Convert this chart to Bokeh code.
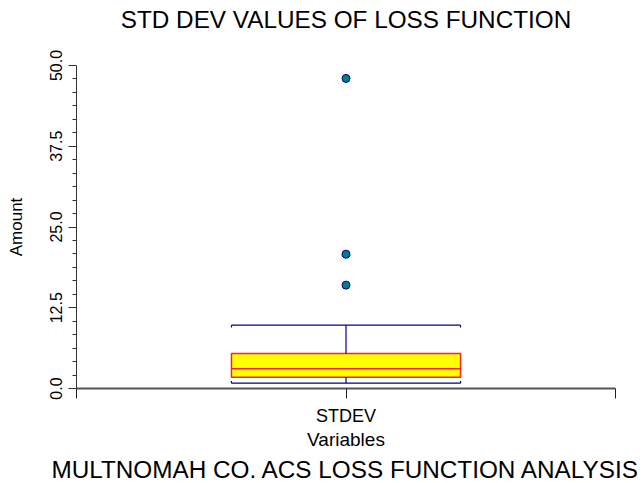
from bokeh.plotting import figure
from bokeh.models import Range1d, FixedTicker, Title
from bokeh.embed import file_html
from bokeh.resources import INLINE
import math

# ---- data ----
categories = ["STDEV"]
q1 = [1.76]
median = [3.05]
q3 = [5.4]
lower_whisker = [0.83]
upper_whisker = [9.8]
outliers = [16.0, 20.8, 48.0]
y_ticks = [0.0, 12.5, 25.0, 37.5, 50.0]

FONT = "Liberation Sans"
xpos = [i + 1 for i in range(len(categories))]
bw = 0.85

p = figure(width=642, height=483, output_backend="svg", toolbar_location=None,
           x_range=Range1d(0, len(categories) + 1), y_range=Range1d(0, 50),
           min_border_left=76, min_border_right=27, min_border_top=65, min_border_bottom=80)
p.outline_line_color = None
p.xgrid.grid_line_color = None
p.ygrid.grid_line_color = None
p.background_fill_color = "white"
p.border_fill_color = "white"

# box
p.quad(left=[x - bw / 2 for x in xpos], right=[x + bw / 2 for x in xpos],
       bottom=q1, top=q3, fill_color="#FFFF00", line_color="#FF2020", line_width=1.5)
# median
p.segment(x0=[x - bw / 2 for x in xpos], x1=[x + bw / 2 for x in xpos],
          y0=median, y1=median, line_color="#FF2020", line_width=1.5)
# whiskers
p.segment(x0=xpos, x1=xpos, y0=q3, y1=upper_whisker, line_color="#000090", line_width=1.2)
p.segment(x0=xpos, x1=xpos, y0=lower_whisker, y1=q1, line_color="#000090", line_width=1.2)
# caps
for yv, d in ((upper_whisker, -0.35), (lower_whisker, 0.35)):
    p.segment(x0=[x - bw / 2 for x in xpos], x1=[x + bw / 2 for x in xpos],
              y0=yv, y1=yv, line_color="#000090", line_width=1.2)
    p.segment(x0=[x - bw / 2 for x in xpos] + [x + bw / 2 for x in xpos],
              x1=[x - bw / 2 for x in xpos] + [x + bw / 2 for x in xpos],
              y0=yv * 2, y1=[v + d for v in yv] * 2, line_color="#000090", line_width=1.2)
# outliers
p.scatter(x=[xpos[0]] * len(outliers), y=outliers, size=8,
          fill_color="#007F7F", line_color="#000090", line_width=1)

# y axis
ya = p.yaxis[0]
ya.ticker = FixedTicker(ticks=y_ticks,
                        minor_ticks=[i * 12.5 / 6 for i in range(25) if i % 6 != 0])
ya.major_label_orientation = "vertical"
ya.major_label_overrides = {t: f"{t:.1f}" for t in y_ticks}
ya.major_label_text_font = FONT
ya.major_label_text_font_size = "16px"
ya.major_label_text_color = "black"
ya.major_label_standoff = 7
ya.major_tick_in = 0
ya.major_tick_out = 8
ya.minor_tick_in = 0
ya.minor_tick_out = 4
ya.axis_line_color = "#333333"
ya.major_tick_line_color = "#333333"
ya.minor_tick_line_color = "#333333"
ya.axis_label = "Amount"
ya.axis_label_text_font = FONT
ya.axis_label_text_font_size = "17px"
ya.axis_label_text_font_style = "normal"
ya.axis_label_text_color = "black"
ya.axis_label_standoff = 21

# x axis
xa = p.xaxis[0]
xa.ticker = FixedTicker(ticks=[0] + xpos + [len(categories) + 1], minor_ticks=[])
xa.major_label_overrides = {0: "", len(categories) + 1: "", **{x: c for x, c in zip(xpos, categories)}}
xa.major_label_text_font = FONT
xa.major_label_text_font_size = "18px"
xa.major_label_text_color = "black"
xa.major_label_standoff = 7
xa.major_tick_in = 0
xa.major_tick_out = 10
xa.axis_line_color = "#555555"
xa.axis_line_width = 2
xa.major_tick_line_color = "#222222"
xa.axis_label = "Variables"
xa.axis_label_text_font = FONT
xa.axis_label_text_font_size = "19px"
xa.axis_label_text_font_style = "normal"
xa.axis_label_text_color = "black"
xa.axis_label_standoff = 0

# top: spacer (closest to frame) then the title
p.title.text = ""
p.add_layout(Title(text=" ", text_font=FONT, text_font_size="10px", standoff=20), "above")
p.add_layout(Title(text="STD DEV VALUES OF LOSS FUNCTION", align="center",
                   text_font=FONT, text_font_size="24.3px", text_font_style="normal",
                   text_color="black", standoff=0), "above")

p.add_layout(Title(text="MULTNOMAH CO. ACS LOSS FUNCTION ANALYSIS", align="center",
                   text_font=FONT, text_font_size="24.3px", text_font_style="normal",
                   text_color="black", standoff=2), "below")

open("out.html", "w").write(file_html(p, INLINE))
